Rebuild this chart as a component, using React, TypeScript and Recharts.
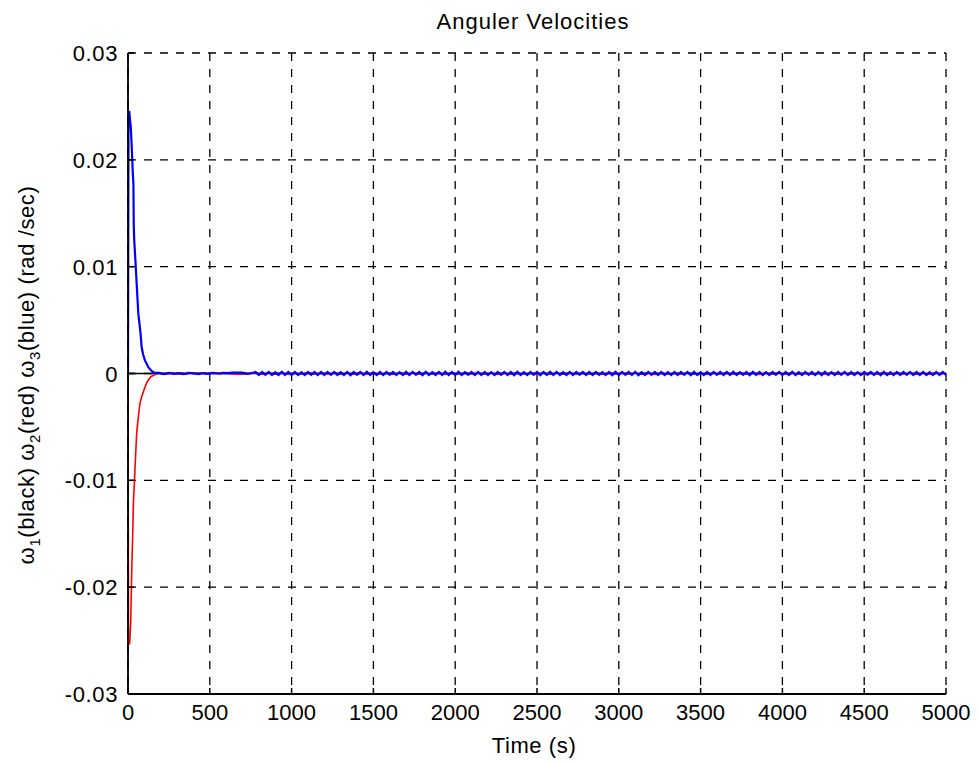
import React from 'react';
import { LineChart, Line, XAxis, YAxis, CartesianGrid } from 'recharts';

// ---- axis ticks ----
const X_TICKS = [0, 500, 1000, 1500, 2000, 2500, 3000, 3500, 4000, 4500, 5000];
const Y_TICKS = [-0.03, -0.02, -0.01, 0, 0.01, 0.02, 0.03];
const Y_TICK_LABELS = ['-0.03', '-0.02', '-0.01', '0', '0.01', '0.02', '0.03'];

// ---- omega_3 (blue): transient + settling, time in s, rad/s ----
const blueT = [0, 3, 8, 12, 17, 22, 26, 30, 33, 35, 38, 43, 48, 53, 58, 63, 70, 77, 83, 92, 104, 115, 124, 140, 155, 170,
  190, 220, 250, 280, 310, 340, 370, 400, 430, 460, 490, 520, 550, 580, 610, 640, 670, 700, 730, 760];
const blueV = [0, 0.0245, 0.0245, 0.0238, 0.0231, 0.0215, 0.02, 0.0185, 0.0178, 0.014, 0.0125, 0.0112, 0.0098, 0.0084, 0.007, 0.0056,
  0.0047, 0.0037, 0.0025, 0.0018, 0.0012, 0.0009, 0.0006, 0.0003, 0.0001, 0.00005,
  0.00005, -0.00005, 0.00006, -0.00004, 0.00003, -0.00006, 0.00005, 0.00002, -0.00005, 0.00004, -0.00003, 0.00005, -0.00002,
  0.00006, 0.00003, 0.00008, 0.00009, 0.00008, -0.00003, 0.00005];
// steady-state oscillation of omega_3 (units of 1e-4 rad/s), sampled from t = 780 s every 20 s
const BLUE_TAIL_START = 780;
const BLUE_TAIL_STEP = 20;
const blueTailE4 = [
  1.4, -1.4, 1.5, -1.3, 1.4, -1.5, 1.3, -1.4, 1.6, -1.3, 1.4, -1.4, 1.5, -1.4, 1.3, -1.5, 1.4, -1.3, 1.5, -1.4,
  1.4, -1.5, 1.4, -1.3, 1.5, -1.4, 1.3, -1.4, 1.4, -1.5, 1.5, -1.3, 1.4, -1.4, 1.6, -1.4, 1.3, -1.5, 1.4, -1.4,
  1.5, -1.3, 1.4, -1.4, 1.3, -1.5, 1.5, -1.4, 1.4, -1.3, 1.4, -1.5, 1.5, -1.4, 1.3, -1.4, 1.4, -1.3, 1.6, -1.4,
  1.4, -1.4, 1.5, -1.5, 1.3, -1.3, 1.4, -1.4, 1.5, -1.4, 1.4, -1.5, 1.3, -1.4, 1.5, -1.3, 1.4, -1.4, 1.4, -1.5,
  1.5, -1.4, 1.3, -1.4, 1.4, -1.3, 1.5, -1.5, 1.4, -1.4, 1.6, -1.3, 1.4, -1.4, 1.3, -1.5, 1.4, -1.4, 1.5, -1.3,
  1.4, -1.5, 1.4, -1.4, 1.5, -1.3, 1.3, -1.4, 1.4, -1.5, 1.5, -1.4, 1.4, -1.3, 1.4, -1.4, 1.6, -1.5, 1.3, -1.4,
  1.4, -1.3, 1.5, -1.4, 1.4, -1.5, 1.3, -1.4, 1.5, -1.4, 1.4, -1.3, 1.4, -1.5, 1.5, -1.4, 1.3, -1.4, 1.4, -1.4,
  1.5, -1.3, 1.4, -1.5, 1.4, -1.4, 1.6, -1.4, 1.3, -1.3, 1.4, -1.5, 1.5, -1.4, 1.4, -1.4, 1.3, -1.5, 1.4, -1.3,
  1.5, -1.4, 1.4, -1.4, 1.5, -1.5, 1.3, -1.4, 1.4, -1.3, 1.5, -1.4, 1.4, -1.5, 1.6, -1.4, 1.3, -1.4, 1.4, -1.3,
  1.5, -1.4, 1.4, -1.5, 1.3, -1.4, 1.5, -1.3, 1.4, -1.4, 1.4, -1.5, 1.5, -1.4, 1.3, -1.4, 1.4, -1.4, 1.5, -1.3,
  1.4, -1.4, 1.5, -1.4, 1.4, -1.5, 1.3, -1.4, 1.4, -1.4, 1.5, -1.3,
];

// ---- omega_2 (red) ----
const redT = [0, 3, 10, 15, 17, 20, 23, 28, 33, 38, 43, 48, 53, 60, 66, 73, 83, 94, 108, 124, 140, 165, 185,
  210, 240, 270, 300, 330, 360, 390, 420, 450, 480, 510, 540, 570, 600, 630, 660, 690, 720, 750];
const redV = [0, -0.0253, -0.0253, -0.0238, -0.0231, -0.0205, -0.0184, -0.0155, -0.0122, -0.0105, -0.0088, -0.0072, -0.0056,
  -0.0045, -0.0037, -0.0028, -0.0022, -0.0017, -0.0011, -0.0006, -0.0003, -0.0001, 0,
  0.00003, -0.00004, 0.00006, -0.00003, 0.00005, -0.00005, 0.00007, -0.00002, 0.00004, -0.00006, 0.00005, 0.00006,
  -0.00003, 0.00004, -0.00005, -0.00006, -0.00007, -0.00005, 0.00003];
const RED_TAIL_START = 780;
const RED_TAIL_STEP = 40;
const redTailE4 = [
  0.6, -0.7, 0.8, -0.6, 0.7, -0.8, 0.6, -0.7, 0.8, -0.6, 0.7, -0.7, 0.6, -0.8, 0.7, -0.6, 0.8, -0.7, 0.6, -0.7,
  0.7, -0.8, 0.6, -0.6, 0.8, -0.7, 0.7, -0.6, 0.6, -0.8, 0.7, -0.7, 0.8, -0.6, 0.6, -0.7, 0.7, -0.8, 0.6, -0.7,
  0.8, -0.6, 0.7, -0.7, 0.6, -0.8, 0.7, -0.6, 0.8, -0.7, 0.6, -0.7, 0.7, -0.8, 0.6, -0.6, 0.8, -0.7, 0.7, -0.6,
  0.6, -0.8, 0.7, -0.7, 0.8, -0.6, 0.6, -0.7, 0.7, -0.8, 0.6, -0.7, 0.8, -0.6, 0.7, -0.7, 0.6, -0.8, 0.7, -0.6,
  0.8, -0.7, 0.6, -0.7, 0.7, -0.8, 0.6, -0.6, 0.8, -0.7, 0.7, -0.6, 0.6, -0.8, 0.7, -0.7, 0.8, -0.6, 0.6, -0.7,
  0.7, -0.8, 0.6, -0.7, 0.8, -0.6,
];

// ---- omega_1 (black) ----
const blackT = [0, 100, 300, 500, 1000, 1500, 2000, 2500, 3000, 3500, 4000, 4500, 5000];
const blackV = [0, 0.00001, -0.00001, 0.00002, -0.00001, 0.00001, 0, -0.00001, 0.00001, 0, -0.00001, 0.00001, 0];

const toRows = (ts: number[], vs: number[]) => ts.map((t, i) => ({ t, v: vs[i] }));
const tailRows = (start: number, step: number, vals: number[]) =>
  vals.map((v, i) => ({ t: start + i * step, v: v * 1e-4 }));

const blueData = [...toRows(blueT, blueV), ...tailRows(BLUE_TAIL_START, BLUE_TAIL_STEP, blueTailE4)].filter(r => r.t <= 5000);
const redData = [...toRows(redT, redV), ...tailRows(RED_TAIL_START, RED_TAIL_STEP, redTailE4)].filter(r => r.t <= 5000);
const blackData = toRows(blackT, blackV);

const FONT = '"Liberation Sans", Arial, Helvetica, sans-serif';
const FS = 22;

const XTick = (props: any) => {
  const { x, y, payload } = props;
  return (
    <g>
      <line x1={x} x2={x} y1={y} y2={y - 6} stroke="#000" strokeWidth={1.5} />
      <text x={x} y={y + 26} textAnchor="middle" fontFamily={FONT} fontSize={FS} fill="#000">
        {payload.value}
      </text>
    </g>
  );
};

const YTick = (props: any) => {
  const { x, y, payload } = props;
  const idx = Y_TICKS.findIndex(v => Math.abs(v - payload.value) < 1e-9);
  return (
    <g>
      <line x1={x} x2={x + 6} y1={y} y2={y} stroke="#000" strokeWidth={1.5} />
      <text x={x - 10} y={y + 8} textAnchor="end" fontFamily={FONT} fontSize={FS} fill="#000" letterSpacing={0.6}>
        {idx >= 0 ? Y_TICK_LABELS[idx] : String(payload.value)}
      </text>
    </g>
  );
};

export default function App() {
  return (
    <div style={{ position: 'absolute', left: 0, top: 0, width: 978, height: 763, background: '#fff' }}>
      <LineChart width={978} height={763} margin={{ top: 53, right: 32, bottom: 0, left: 0 }}>
        <CartesianGrid stroke="#000" strokeDasharray="8 8" strokeWidth={1.3} />
        <XAxis
          dataKey="t"
          type="number"
          domain={[0, 5000]}
          ticks={X_TICKS}
          interval={0}
          allowDataOverflow
          height={69}
          tickSize={0}
          tickMargin={0}
          tickLine={false}
          axisLine={{ stroke: '#000', strokeWidth: 1.8 }}
          tick={<XTick />}
        />
        <YAxis
          dataKey="v"
          type="number"
          domain={[-0.03, 0.03]}
          ticks={Y_TICKS}
          interval={0}
          allowDataOverflow
          width={128}
          tickSize={0}
          tickMargin={0}
          tickLine={false}
          axisLine={{ stroke: '#000', strokeWidth: 1.8 }}
          tick={<YTick />}
        />
        <Line data={blackData} dataKey="v" stroke="#000" strokeWidth={1.5} dot={false} isAnimationActive={false} type="linear" />
        <Line data={redData} dataKey="v" stroke="#ff0000" strokeWidth={1.6} dot={false} isAnimationActive={false} type="linear" />
        <Line data={blueData} dataKey="v" stroke="#0000ff" strokeWidth={2.2} dot={false} isAnimationActive={false} type="linear" />
      </LineChart>
      <svg width={978} height={763} style={{ position: 'absolute', left: 0, top: 0, pointerEvents: 'none' }}>
        <text x={533} y={29} textAnchor="middle" fontFamily={FONT} fontSize={FS} fill="#000" letterSpacing={1}>Anguler Velocities</text>
        <text x={534} y={753} textAnchor="middle" fontFamily={FONT} fontSize={FS} fill="#000" letterSpacing={0.6}>Time (s)</text>
        <text x={34} y={375} textAnchor="middle" fontFamily={FONT} fontSize={FS} fill="#000" letterSpacing={0.6} transform="rotate(-90, 34, 375)">
          ω<tspan fontSize={15} dy={6}>1</tspan>
          <tspan dy={-6}>(black) ω</tspan>
          <tspan fontSize={15} dy={6}>2</tspan>
          <tspan dy={-6}>(red) ω</tspan>
          <tspan fontSize={15} dy={6}>3</tspan>
          <tspan dy={-6}>(blue) (rad /sec)</tspan>
        </text>
      </svg>
    </div>
  );
}
